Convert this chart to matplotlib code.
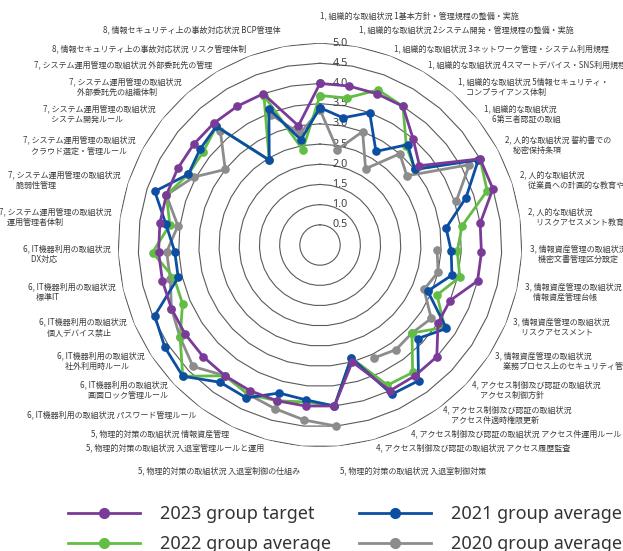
import numpy as np
import matplotlib
matplotlib.use("Agg")
import matplotlib.pyplot as plt
from matplotlib.lines import Line2D

plt.rcParams['font.family'] = ['Noto Sans CJK JP', 'DejaVu Sans']

# Assessment items (clockwise from the top)
categories = [
    "1, 組織的な取組状況 1基本方針・管理規程の整備・実施",
    "1, 組織的な取組状況 2システム開発・管理規程の整備・実施",
    "1, 組織的な取組状況 3ネットワーク管理・システム利用規程",
    "1, 組織的な取組状況 4スマートデバイス・SNS利用規程",
    "1, 組織的な取組状況 5情報セキュリティ・\n　コンプライアンス体制",
    "1, 組織的な取組状況\n　6第三者認証の取組",
    "2, 人的な取組状況 誓約書での\n　秘密保持条項",
    "2, 人的な取組状況\n　従業員への計画的な教育や指導",
    "2, 人的な取組状況\n　リスクアセスメント教育の実施",
    "3, 情報資産管理の取組状況\n　機密文書管理区分設定",
    "3, 情報資産管理の取組状況\n　情報資産管理台帳",
    "3, 情報資産管理の取組状況\n　リスクアセスメント",
    "3, 情報資産管理の取組状況\n　業務プロセス上のセキュリティ管理措置",
    "4, アクセス制御及び認証の取組状況\n　アクセス制御方針",
    "4, アクセス制御及び認証の取組状況\n　アクセス件適時権限更新",
    "4, アクセス制御及び認証の取組状況 アクセス件運用ルール",
    "4, アクセス制御及び認証の取組状況 アクセス履歴監査",
    "5, 物理的対策の取組状況 入退室制御対策",
    "5, 物理的対策の取組状況 入退室制御の仕組み",
    "5, 物理的対策の取組状況 入退室管理ルールと運用",
    "5, 物理的対策の取組状況 情報資産管理",
    "6, IT機器利用の取組状況 パスワード管理ルール",
    "6, IT機器利用の取組状況\n　画面ロック管理ルール",
    "6, IT機器利用の取組状況\n　社外利用時ルール",
    "6, IT機器利用の取組状況\n　個人デバイス禁止",
    "6, IT機器利用の取組状況\n　標準IT",
    "6, IT機器利用の取組状況\n　DX対応",
    "7, システム運用管理の取組状況\n　運用管理者体制",
    "7, システム運用管理の取組状況\n　脆弱性管理",
    "7, システム運用管理の取組状況\n　クラウド選定・管理ルール",
    "7, システム運用管理の取組状況\n　システム開発ルール",
    "7, システム運用管理の取組状況\n　外部委託先の組織体制",
    "7, システム運用管理の取組状況 外部委託先の管理",
    "8, 情報セキュリティ上の事故対応状況 リスク管理体制",
    "8, 情報セキュリティ上の事故対応状況 BCP管理体",
]

target_2023 = [4.0, 4.0, 4.0, 4.0, 3.5, 3.15, 4.5, 4.5, 4.0, 4.0, 4.0, 3.5,
               3.5, 4.0, 4.0, 4.0, 3.0, 4.0, 4.0, 4.0, 4.0, 4.0, 4.0, 4.0,
               4.0, 4.0, 4.0, 4.0, 4.0, 4.0, 4.0, 4.0, 4.0, 4.0, 3.0]
avg_2022 = [3.7, 3.7, 4.1, 4.0, 3.25, 3.0, 4.5, 4.35, 3.55, 3.4, 3.55, 3.15,
            3.7, 3.15, 3.9, 3.85, 2.9, 4.0, 3.9, 4.0, 4.1, 4.0, 4.7, 4.15,
            3.7, 3.7, 4.15, 3.75, 4.0, 3.7, 3.7, 3.9, 2.45, 3.95, 2.4]
avg_2021 = [3.4, 3.2, 3.5, 2.7, 3.3, 3.0, 4.45, 3.8, 3.15, 3.25, 3.35, 2.9,
            3.75, 3.35, 4.15, 4.1, 2.9, 4.0, 3.85, 3.8, 4.2, 4.2, 4.7, 4.6,
            4.45, 3.6, 3.6, 3.85, 4.3, 3.7, 3.8, 3.9, 2.45, 3.6, 2.65]
avg_2020 = [3.35, 2.4, 3.0, 2.2, 3.0, 2.75, 4.2, 3.55, None, 2.9, 3.0, 2.8,
            3.3, 3.15, 3.2, 3.1, None, 4.5, 4.35, 4.2, 4.1, 4.0, 4.35, 4.15,
            4.0, 3.8, 3.8, 3.55, 4.0, 3.55, 3.0, 3.75, None, 3.45, 2.8]

series_names = ["2023 group target", "2022 group average",
                "2021 group average", "2020 group average"]
series_values = [target_2023, avg_2022, avg_2021, avg_2020]
series_colors = ["#7a3b98", "#62bd45", "#0b4ea2", "#8c8c8c"]
series_z = [6, 4, 5, 3]

ring_values = [0.5, 1.0, 1.5, 2.0, 2.5, 3.0, 3.5, 4.0, 4.5, 5.0]

n = len(categories)
angles = np.arange(n) * 2 * np.pi / n

fig = plt.figure(figsize=(6.23, 5.51), dpi=100)
ax = fig.add_axes([0.1894, 0.1887, 0.6485, 0.7332], projection='polar')
ax.set_theta_zero_location('N')
ax.set_theta_direction(-1)
ax.set_ylim(0, 5.0)
ax.set_xticks([])
ax.set_yticks([])
ax.grid(False)
ax.spines['polar'].set_visible(False)
ax.patch.set_alpha(0)

# polygonal value rings
closed = np.append(angles, angles[0])
for rv in ring_values:
    ax.plot(closed, np.full(closed.shape, rv), color="#5a5a5a", lw=0.8, zorder=1)
    ax.annotate(f"{rv:.1f}", xy=(0, rv), xytext=(9, 0), textcoords='offset points',
                ha='left', va='center', fontsize=7.8, color="#404040",
                family=['Noto Sans', 'DejaVu Sans'], zorder=2)

# data series (closed loops; None leaves a gap)
for name, vals, col, z in zip(series_names, series_values, series_colors, series_z):
    v = np.array([np.nan if x is None else x for x in vals], dtype=float)
    ax.plot(np.append(angles, angles[0]), np.append(v, v[0]), color=col, lw=2.0,
            marker='o', markersize=5.2, zorder=z, clip_on=False)

# category labels around the chart
for ang, lab in zip(angles, categories):
    s, c = np.sin(ang), np.cos(ang)
    extra = 0.47 * max(0.0, (abs(c) - 0.97) / 0.03)
    r = 5.2 + extra
    if abs(s) < 1e-6:
        ha = 'left'
    else:
        ha = 'left' if s > 0 else 'right'
    ax.text(ang, r, lab, ha=ha, va='center', fontsize=5.8, color="#3c3c3c",
            multialignment='left', linespacing=1.25)

handles = [Line2D([0], [0], color=col, lw=2.0, marker='o', markersize=7)
           for col in series_colors]
fig.legend(handles, series_names, ncol=2, loc='upper left',
           bbox_to_anchor=(68 / 623, 1 - 505 / 551), frameon=False,
           prop={'family': 'Noto Sans', 'size': 13}, handlelength=4.0,
           handletextpad=1.1, columnspacing=1.55, labelspacing=0.67,
           borderpad=0, borderaxespad=0, labelcolor="#333333")

fig.savefig("out.png", dpi=100)
